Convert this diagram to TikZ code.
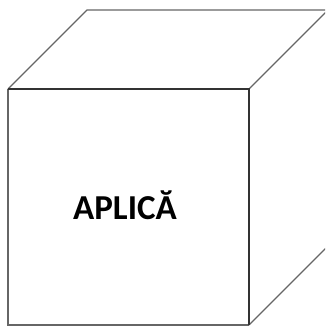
\documentclass[tikz,border=0pt]{standalone}
\usepackage{fontspec}
\setmainfont{Carlito}
\begin{document}
\begin{tikzpicture}[x=1pt,y=-1pt,
  edge/.style={draw=black!60,line width=1.4pt,line join=miter},
  front/.style={draw=black!80,line width=1.3pt},
  lbl/.style={font=\bfseries\fontsize{35}{40}\selectfont,text=black,inner sep=0pt}]
\useasboundingbox (0,0) rectangle (325,326);
\clip (0,0) rectangle (325,326);
\coordinate (ftl) at (8,89);
\coordinate (ftr) at (249,89);
\coordinate (fbr) at (249,325);
\coordinate (fbl) at (8,325);
\coordinate (btl) at (87,10);
\coordinate (btr) at (328,10);
\coordinate (bbr) at (328,246);
\draw[edge] (ftl) -- (btl) -- (btr) -- (ftr);
\draw[edge] (btr) -- (bbr) -- (fbr);
\draw[edge] (fbr) -- (fbl) -- (ftl);
\draw[front] (ftl) -- (ftr) -- (fbr);
\node[lbl] (t) at (125,205) {APLICĂ};
\end{tikzpicture}
\end{document}
